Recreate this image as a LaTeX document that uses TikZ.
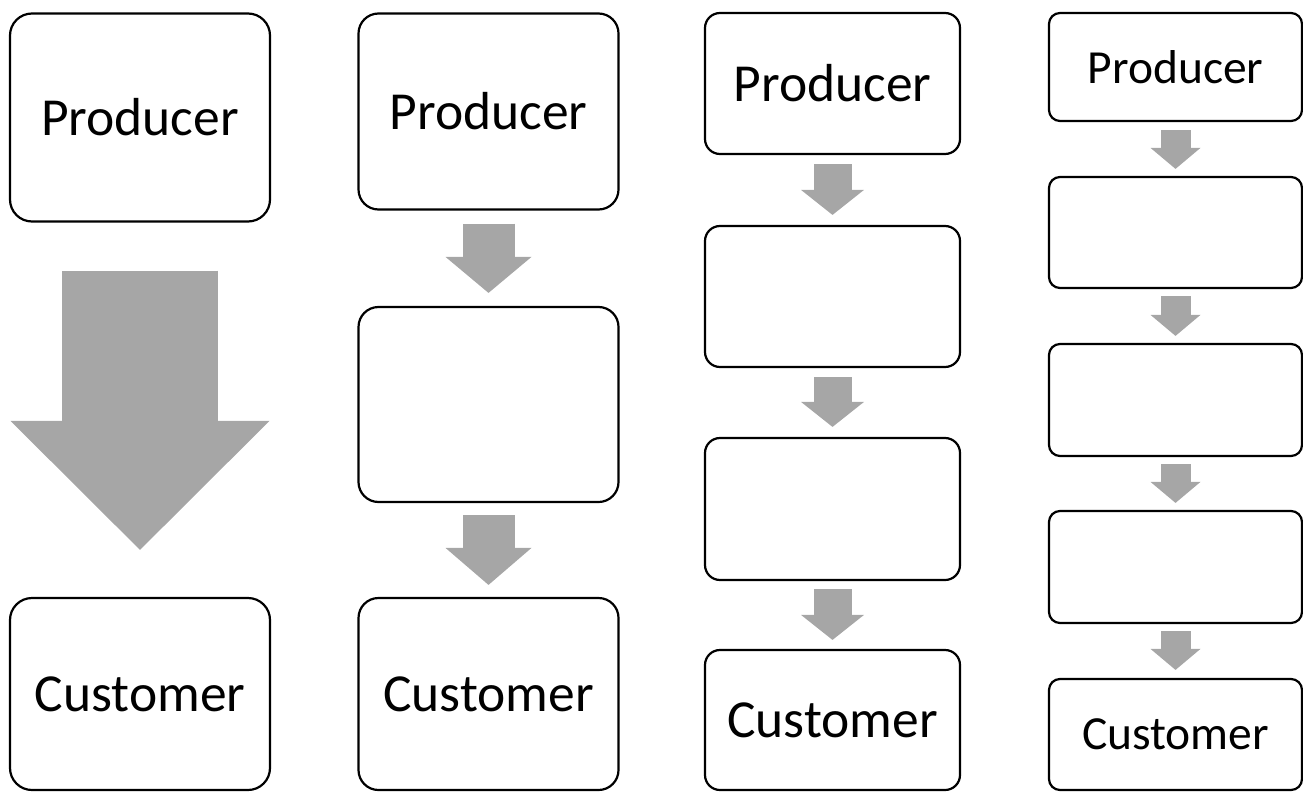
\documentclass[tikz,border=0pt]{standalone}
\usepackage{fontspec}
\setmainfont{Carlito}
\usepackage{tikz}
\usetikzlibrary{arrows.meta, calc, positioning}
\definecolor{flowgray}{HTML}{A6A6A6}

\tikzset{
  stage/.style={draw=black, line width=2.2pt, fill=white, rounded corners=#1,
    inner sep=0pt, align=center, font=\fontsize{53.5}{63}\selectfont},
  stage/.default=20pt,
  small stage/.style={stage=11pt, font=\fontsize{47.5}{56}\selectfont},
  flow/.style n args={3}{draw=flowgray, line width=#1,
    -{Triangle[width=#2, length=#3, line width=0pt]}}
}

\begin{document}
\begin{tikzpicture}[x=1pt, y=-1pt]
  \useasboundingbox (0,0) rectangle (1303,792);
%%
  % Node: p1
  \node[stage=22pt, minimum width=260pt, minimum height=208pt] (p1) at (140,117.5) {Producer};
  % Node: c1
  \node[stage=22pt, minimum width=260pt, minimum height=192pt] (c1) at (140,694) {Customer};
  % Edge: p1 -- c1
  \draw[flow={156pt}{259pt}{129pt}] ($(p1.south)+(0,48)$) -- ($(c1.north)+(0,-47)$);
%%
  % Node: p2
  \node[stage, minimum width=260pt, minimum height=196pt] (p2) at (488.5,111.5) {Producer};
  % Node: m2
  \node[stage, minimum width=260pt, minimum height=195pt] (m2) at (488.5,404.5) {};
  % Node: c2
  \node[stage, minimum width=260pt, minimum height=192pt] (c2) at (488.5,694) {Customer};
  % Edge: p2 -- m2
  \draw[flow={52pt}{86pt}{36pt}] ($(p2.south)+(0,13)$) -- ($(m2.north)+(0,-13)$);
  % Edge: m2 -- c2
  \draw[flow={52pt}{86pt}{37pt}] ($(m2.south)+(0,12)$) -- ($(c2.north)+(0,-12)$);
%%
  % Node: p3
  \node[stage=15pt, minimum width=255pt, minimum height=141pt] (p3) at (832.5,83.5) {Producer};
  % Node: m3a
  \node[stage=15pt, minimum width=255pt, minimum height=141pt] (m3a) at (832.5,296.5) {};
  % Node: m3b
  \node[stage=15pt, minimum width=255pt, minimum height=142pt] (m3b) at (832.5,509) {};
  % Node: c3
  \node[stage=15pt, minimum width=255pt, minimum height=140pt] (c3) at (832.5,720) {Customer};
  % Edge: p3 -- m3a
  \draw[flow={38pt}{63pt}{25pt}] ($(p3.south)+(0,9)$) -- ($(m3a.north)+(0,-10)$);
  % Edge: m3a -- m3b
  \draw[flow={38pt}{63pt}{25pt}] ($(m3a.south)+(0,9)$) -- ($(m3b.north)+(0,-10)$);
  % Edge: m3b -- c3
  \draw[flow={38pt}{63pt}{25pt}] ($(m3b.south)+(0,8)$) -- ($(c3.north)+(0,-9)$);
%%
  % Node: p4
  \node[small stage, minimum width=253pt, minimum height=108pt] (p4) at (1175.5,67) {Producer};
  % Node: m4a
  \node[small stage, minimum width=253pt, minimum height=111pt] (m4a) at (1175.5,232.5) {};
  % Node: m4b
  \node[small stage, minimum width=253pt, minimum height=112pt] (m4b) at (1175.5,400) {};
  % Node: m4c
  \node[small stage, minimum width=253pt, minimum height=112pt] (m4c) at (1175.5,567) {};
  % Node: c4
  \node[small stage, minimum width=253pt, minimum height=111pt] (c4) at (1175.5,734.5) {Customer};
  % Edge: p4 -- m4a
  \draw[flow={30pt}{50pt}{21pt}] ($(p4.south)+(0,8)$) -- ($(m4a.north)+(0,-7)$);
  % Edge: m4a -- m4b
  \draw[flow={30pt}{50pt}{21pt}] ($(m4a.south)+(0,7)$) -- ($(m4b.north)+(0,-7)$);
  % Edge: m4b -- m4c
  \draw[flow={30pt}{50pt}{21pt}] ($(m4b.south)+(0,7)$) -- ($(m4c.north)+(0,-7)$);
  % Edge: m4c -- c4
  \draw[flow={30pt}{50pt}{21pt}] ($(m4c.south)+(0,7)$) -- ($(c4.north)+(0,-8)$);
%
\end{tikzpicture}
\end{document}
